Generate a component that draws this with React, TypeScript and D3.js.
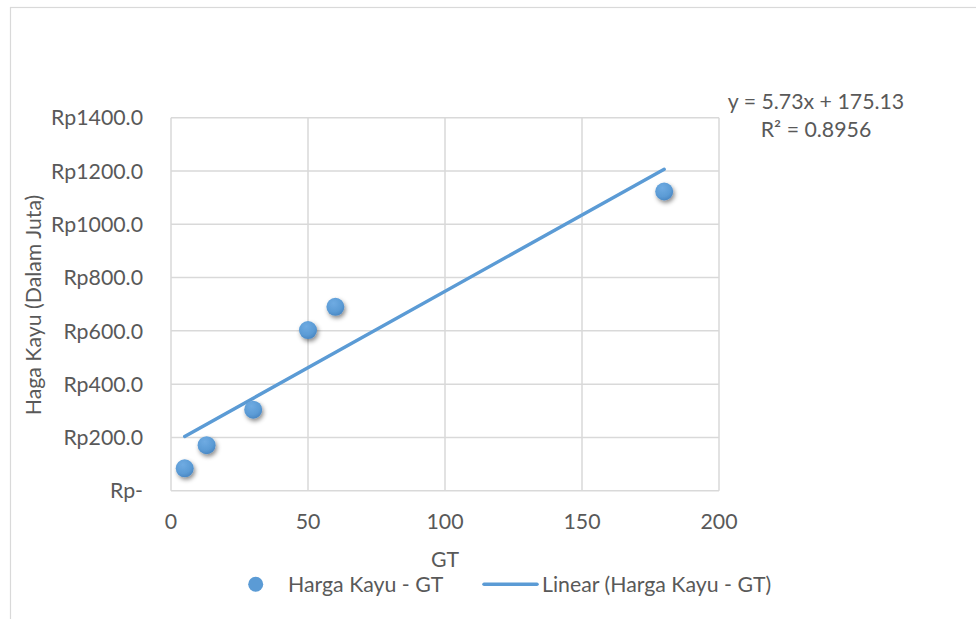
import React from "react";
import * as d3 from "d3";

const gtValues = [5, 13, 30, 50, 60, 180];
const hargaValues = [84, 171, 304, 603, 690, 1123];
const xTicks = [0, 50, 100, 150, 200];
const yTicks = [0, 200, 400, 600, 800, 1000, 1200, 1400];
const trendCoef = [5.73, 175.13];
const trendRange = [5, 180];
const equationLines = ["y = 5.73x + 175.13", "R² = 0.8956"];
const seriesName = "Harga Kayu - GT";
const trendName = "Linear (Harga Kayu - GT)";
const xTitle = "GT";
const yTitle = "Haga Kayu (Dalam Juta)";

const W = 976;
const H = 619;
const FONT = "Lato, 'Open Sans', sans-serif";
const FS = 21.3;
const TXT = "#595959";
const GRID = "#d9d9d9";
const BLUE = "#5B9BD5";

export default function App() {
  const x = d3.scaleLinear().domain([0, 200]).range([171, 719]);
  const y = d3.scaleLinear().domain([0, 1400]).range([490.7, 117.7]);
  const fmtY = (v: number) => (v === 0 ? "Rp-" : `Rp${v.toFixed(1)}`);
  const line = d3
    .line<number>()
    .x((d) => x(d))
    .y((d) => y(trendCoef[0] * d + trendCoef[1]));

  return (
    <svg
      width={W}
      height={H}
      style={{ position: "absolute", left: 0, top: 0, background: "#fff" }}
      fontFamily={FONT}
    >
      <defs>
        <radialGradient id="ptg" cx="40%" cy="30%" r="75%">
          <stop offset="0%" stopColor="#6fabe2" />
          <stop offset="65%" stopColor={BLUE} />
          <stop offset="100%" stopColor="#4784c0" />
        </radialGradient>
        <filter id="shadow" x="-50%" y="-50%" width="200%" height="200%">
          <feDropShadow dx="1.5" dy="2.5" stdDeviation="2" floodColor="#000" floodOpacity="0.45" />
        </filter>
      </defs>
      <rect x={0} y={0} width={W} height={H} fill="#fff" />
      <rect x={10.5} y={7.5} width={W + 20} height={H + 20} fill="none" stroke={GRID} strokeWidth={1.2} />

      {yTicks.map((t) => (
        <line key={"gy" + t} x1={x(0)} x2={x(200)} y1={y(t)} y2={y(t)} stroke={GRID} strokeWidth={1.5} />
      ))}
      {xTicks.map((t) => (
        <line key={"gx" + t} x1={x(t)} x2={x(t)} y1={y(0)} y2={y(1400)} stroke={GRID} strokeWidth={1.5} />
      ))}

      {yTicks.map((t) => (
        <text key={"ty" + t} x={143} y={y(t)} dy="0.36em" textAnchor="end" fontSize={FS} fill={TXT}>
          {fmtY(t)}
        </text>
      ))}
      {xTicks.map((t) => (
        <text key={"tx" + t} x={x(t)} y={529} textAnchor="middle" fontSize={FS} fill={TXT}>
          {t}
        </text>
      ))}

      <text x={x(100)} y={567} textAnchor="middle" fontSize={FS} fill={TXT}>
        {xTitle}
      </text>
      <text transform={`translate(41,305) rotate(-90)`} textAnchor="middle" fontSize={FS} fill={TXT}>
        {yTitle}
      </text>

      <path d={line(trendRange) || ""} stroke={BLUE} strokeWidth={3.4} fill="none" strokeLinecap="round" />

      {gtValues.map((g, i) => (
        <circle key={"p" + i} cx={x(g)} cy={y(hargaValues[i])} r={9} fill="url(#ptg)" filter="url(#shadow)" />
      ))}

      <text x={816} y={109} textAnchor="middle" fontSize={FS} fill={TXT}>
        {equationLines[0]}
      </text>
      <text x={816} y={137} textAnchor="middle" fontSize={FS} fill={TXT}>
        {equationLines[1]}
      </text>

      <circle cx={255.7} cy={584.3} r={7.5} fill={BLUE} />
      <text x={288} y={592} fontSize={FS} fill={TXT}>
        {seriesName}
      </text>
      <line x1={484} x2={537} y1={584.3} y2={584.3} stroke={BLUE} strokeWidth={3.5} strokeLinecap="round" />
      <text x={542} y={592} fontSize={FS} fill={TXT}>
        {trendName}
      </text>
    </svg>
  );
}
